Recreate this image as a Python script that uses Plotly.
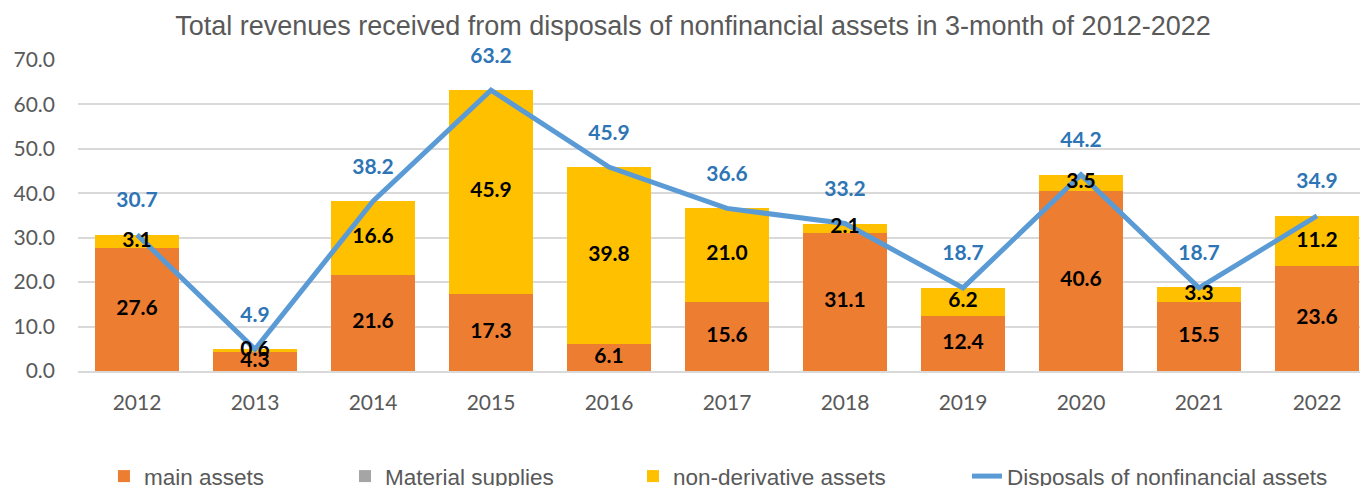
import plotly.graph_objects as go

years = ["2012", "2013", "2014", "2015", "2016", "2017", "2018", "2019", "2020", "2021", "2022"]
main_assets = [27.6, 4.3, 21.6, 17.3, 6.1, 15.6, 31.1, 12.4, 40.6, 15.5, 23.6]
material_supplies = [0, 0, 0, 0, 0, 0, 0, 0, 0, 0, 0]
non_derivative = [3.1, 0.6, 16.6, 45.9, 39.8, 21.0, 2.1, 6.2, 3.5, 3.3, 11.2]
disposals_total = [30.7, 4.9, 38.2, 63.2, 45.9, 36.6, 33.2, 18.7, 44.2, 18.7, 34.9]

label_font = dict(family="Lato, Calibri, sans-serif", size=21, color="black")
legend_font = dict(family="Liberation Sans, Arial, sans-serif", size=22.5, color="#595959")

# segment centres for the bar labels (drawn above the line, like the original)
main_mid = [m / 2 for m in main_assets]
nonder_mid = [m + s + n / 2 for m, s, n in zip(main_assets, material_supplies, non_derivative)]

fig = go.Figure()

fig.add_trace(go.Bar(
    x=years, y=main_assets, name="main assets", legend="legend",
    marker=dict(color="#ED7D31", line=dict(width=0)),
))
fig.add_trace(go.Bar(
    x=years, y=material_supplies, name="Material supplies", legend="legend2",
    marker=dict(color="#A5A5A5", line=dict(width=0)),
))
fig.add_trace(go.Bar(
    x=years, y=non_derivative, name="non-derivative assets", legend="legend3",
    marker=dict(color="#FFC000", line=dict(width=0)),
))
fig.add_trace(go.Scatter(
    x=years, y=disposals_total, name="Disposals of nonfinancial assets", legend="legend4",
    mode="lines+markers+text",
    line=dict(color="#5B9BD5", width=5),
    marker=dict(size=34, color="rgba(0,0,0,0)"),
    text=[f"<b>{v:.1f}</b>" for v in disposals_total],
    textposition="top center",
    textfont=dict(family="Lato, Calibri, sans-serif", size=21, color="#2E75B6"),
    cliponaxis=False,
))
fig.add_trace(go.Scatter(
    x=years, y=main_mid, mode="text", showlegend=False, hoverinfo="skip",
    text=[f"<b>{v:.1f}</b>" for v in main_assets],
    textposition="middle center", textfont=label_font, cliponaxis=False,
))
fig.add_trace(go.Scatter(
    x=years, y=nonder_mid, mode="text", showlegend=False, hoverinfo="skip",
    text=[f"<b>{v:.1f}</b>" for v in non_derivative],
    textposition="middle center", textfont=label_font, cliponaxis=False,
))

leg = dict(orientation="h", xanchor="left", y=-0.27, yanchor="top", font=legend_font)

fig.update_layout(
    width=1368, height=494,
    barmode="stack", bargap=0.28,
    plot_bgcolor="white", paper_bgcolor="white",
    margin=dict(l=70, r=0, t=52, b=131),
    title=dict(
        text="Total revenues received from disposals of nonfinancial assets in 3-month of 2012-2022",
        x=0.5007, xanchor="center", y=0.965, yanchor="middle",
        font=dict(family="Liberation Sans, Arial, sans-serif", size=27, color="#595959"),
    ),
    legend=dict(leg, x=0.0200),
    legend2=dict(leg, x=0.2057),
    legend3=dict(leg, x=0.4276),
    legend4=dict(leg, x=0.6849),
    showlegend=True,
)

fig.update_yaxes(
    range=[0, 70], dtick=10, tickformat=".1f",
    showgrid=True, gridcolor="#D9D9D9", gridwidth=1.5,
    zeroline=False, showline=False, ticks="", automargin=False,
    ticklabelstandoff=22,
    tickfont=dict(family="Lato, Calibri, sans-serif", size=21, color="#595959"),
)
fig.update_xaxes(
    range=[-0.5, 10.5],
    showline=True, linecolor="#D9D9D9", linewidth=2,
    ticks="", showgrid=False, automargin=False,
    ticklabelstandoff=12,
    tickfont=dict(family="Lato, Calibri, sans-serif", size=21, color="#595959"),
)

fig.write_html("out.html")
